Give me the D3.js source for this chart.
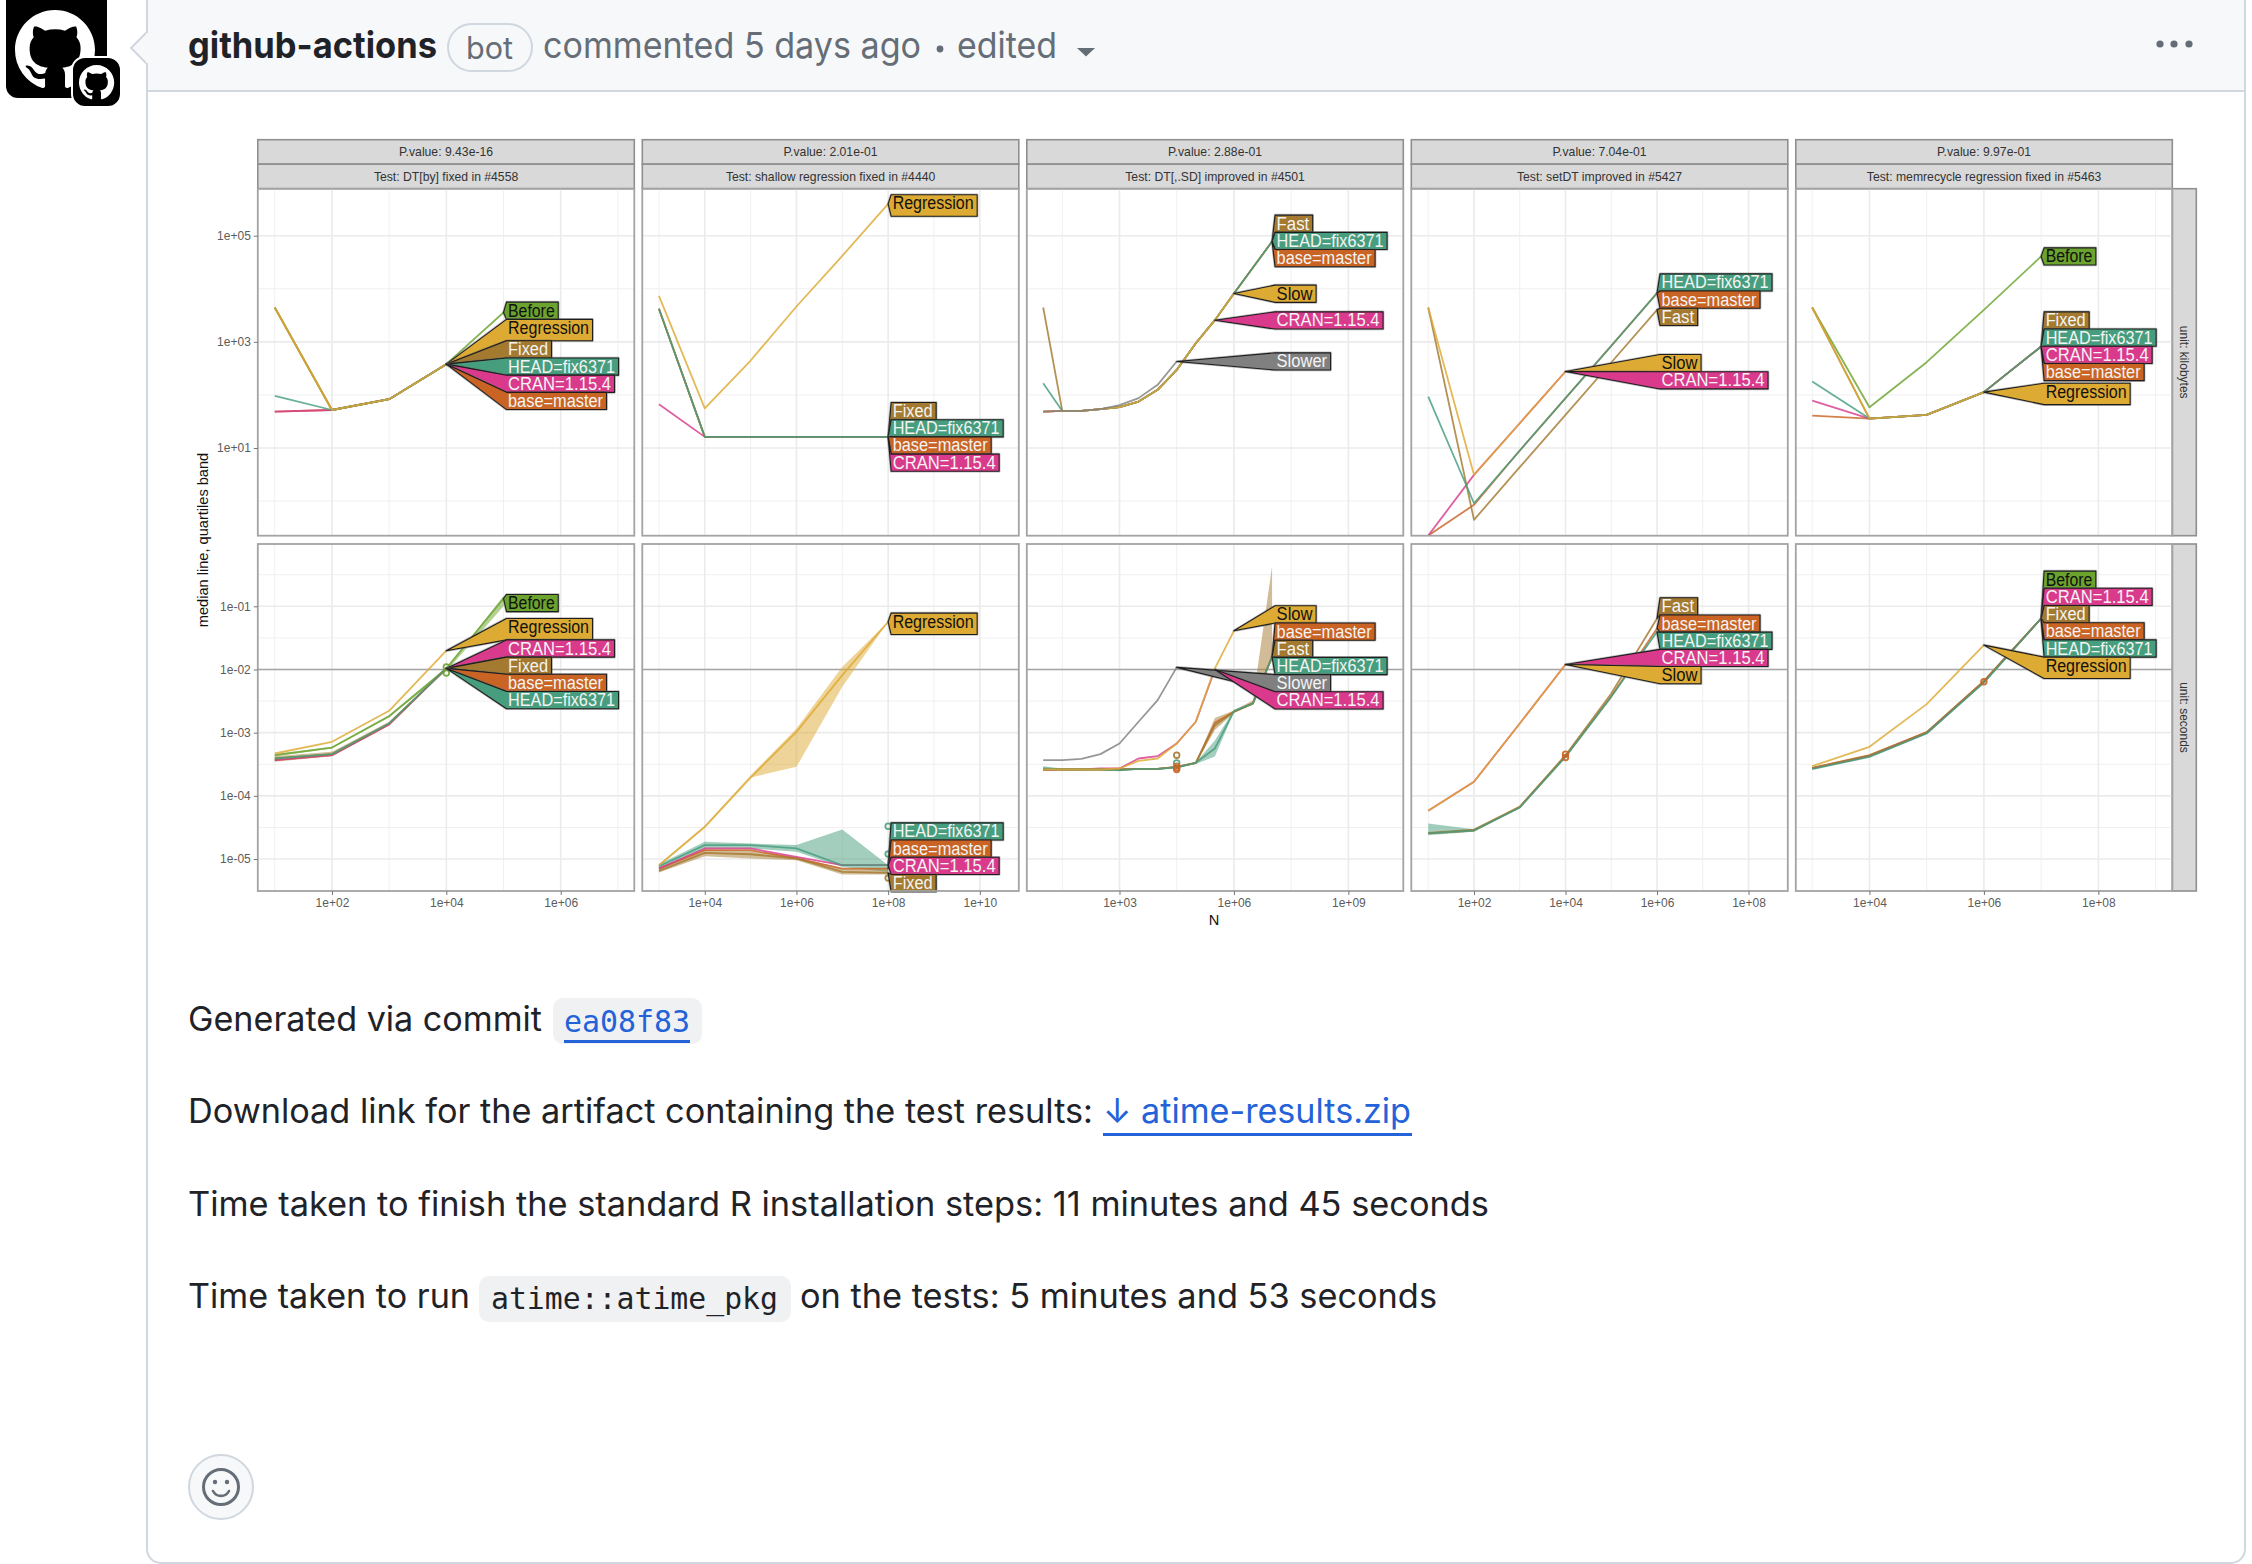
<!DOCTYPE html>
<html>
<head>
<meta charset="utf-8">
<script src="https://cdn.jsdelivr.net/npm/d3@7"></script>
<style>
body { margin: 0; background: #fff; }
svg { display: block; }
</style>
</head>
<body>
<script>
// ---- data ----
const BASE = "base=master", HEAD = "HEAD=fix6371", CRAN = "CRAN=1.15.4";
const seriesOrder = [BASE, "Before", CRAN, "Fast", "Fixed", HEAD, "Regression", "Slow", "Slower"];
const pValues = ["P.value: 9.43e-16", "P.value: 2.01e-01", "P.value: 2.88e-01", "P.value: 7.04e-01", "P.value: 9.97e-01"];
const testNames = ["Test: DT[by] fixed in #4558", "Test: shallow regression fixed in #4440", "Test: DT[,.SD] improved in #4501", "Test: setDT improved in #5427", "Test: memrecycle regression fixed in #5463"];
const unitNames = ["unit: kilobytes", "unit: seconds"];

const nP1 = [1e1, 1e2, 1e3, 1e4, 1e5];
const nP2 = [1e3, 1e4, 1e5, 1e6, 1e7, 1e8];
const nP3 = [1e1, 3.16e1, 1e2, 3.16e2, 1e3, 3.16e3, 1e4, 3.16e4, 1e5, 3.16e5, 1e6, 3.16e6, 1e7];
const nP4 = [1e1, 1e2, 1e3, 1e4, 1e5, 1e6];
const nP5 = [1e3, 1e4, 1e5, 1e6, 1e7];

const xMajorP1 = [1e2, 1e4, 1e6], xMinorP1 = [1e1, 1e3, 1e5, 1e7];
const xMajorP2 = [1e4, 1e6, 1e8, 1e10], xMinorP2 = [1e3, 1e5, 1e7, 1e9];
const xMajorP3 = [1e3, 1e6, 1e9], xMinorP3 = [3.16e1, 3.16e4, 3.16e7, 3.16e10];
const xMajorP4 = [1e2, 1e4, 1e6, 1e8], xMinorP4 = [1e1, 1e3, 1e5, 1e7];
const xMajorP5 = [1e4, 1e6, 1e8], xMinorP5 = [1e3, 1e5, 1e7, 1e9];

const yMajorKb = [1e1, 1e3, 1e5], yMinorKb = [1, 1e2, 1e4];
const yMajorSec = [1e-5, 1e-4, 1e-3, 1e-2, 1e-1], yMinorSec = [3.16e-6, 3.16e-5, 3.16e-4, 3.16e-3, 3.16e-2, 3.16e-1];
const secondsLimit = 0.01;

// kilobytes
const p1Kb = {
  "Before": [4430, 52, 83, 380, 3570],
  "Fixed": [4430, 52, 83, 380, null],
  [CRAN]: [48.6, 52, 83, 380, null],
  [BASE]: [48.6, 52, 83, 380, null],
  [HEAD]: [96, 52, 83, 380, null],
  "Regression": [4430, 52, 83, 380, null]
};
const p2Kb = {
  "Regression": [7360, 56, 445, 4630, 41700, 398000],
  "Fixed": [4190, 16.2, 16.2, 16.2, 16.2, 16.2],
  [BASE]: [4190, 16.2, 16.2, 16.2, 16.2, 16.2],
  [CRAN]: [67, 16.2, 16.2, 16.2, 16.2, 16.2],
  [HEAD]: [4190, 16.2, 16.2, 16.2, 16.2, 16.2]
};
const p3Kb = {
  "Slower": [48.6, 50, 50, 54, 64, 87, 155, 426],
  "Slow": [48.6, 50, 50, 54, 59, 75, 125, 295, 940, 2560, 8130],
  [CRAN]: [48.6, 50, 50, 54, 59, 75, 125, 295, 940, 2560],
  "Fast": [4430, 50, 50, 54, 59, 75, 125, 295, 940, 2560, 8130, 25100, 77700],
  [HEAD]: [166, 50, 50, 54, 59, 75, 125, 295, 940, 2560, 8130, 25100, 77700],
  [BASE]: [48.6, 50, 50, 54, 59, 75, 125, 295, 940, 2560, 8130, 25100, 77700]
};
const p4Kb = {
  "Slow": [4430, 3.12, 29.3, 276],
  [CRAN]: [0.224, 3.12, 29.3, 276],
  "Fast": [4430, 0.443, 4.35, 42, 408, 4010],
  [BASE]: [0.224, 0.85, 8.96, 86.8, 841, 8260],
  [HEAD]: [93, 0.91, 8.96, 86.8, 841, 8260]
};
const p5Kb = {
  "Before": [4430, 58.7, 414, 4010, 40600],
  "Regression": [4430, 35.9, 42, 113],
  "Fixed": [4430, 35.9, 42, 113, 817],
  [HEAD]: [179, 35.9, 42, 113, 817],
  [CRAN]: [78, 35.9, 42, 113, 817],
  [BASE]: [40.9, 35.9, 42, 113, 817]
};

// seconds
const p1Sec = {
  "Before": [4.4e-4, 5.82e-4, 1.82e-3, 0.0104, 0.133],
  "Regression": [4.68e-4, 7.16e-4, 2.22e-3, 0.0198],
  "Fixed": [3.9e-4, 4.57e-4, 1.4e-3, 0.0104],
  [HEAD]: [3.9e-4, 4.57e-4, 1.4e-3, 0.0104],
  [CRAN]: [3.67e-4, 4.4e-4, 1.35e-3, 0.0104],
  [BASE]: [3.67e-4, 4.4e-4, 1.35e-3, 0.0104]
};
const p2Sec = {
  "Regression": [7.98e-6, 3.23e-5, 1.95e-4, 1.03e-3, 8.13e-3, 0.0569],
  [HEAD]: [7.7e-6, 1.66e-5, 1.66e-5, 1.47e-5, 7.98e-6, 7.98e-6],
  [CRAN]: [7.07e-6, 1.47e-5, 1.47e-5, 1.08e-5, 7.98e-6, 7.98e-6],
  [BASE]: [7.07e-6, 1.38e-5, 1.38e-5, 1.02e-5, 7.07e-6, 7.07e-6],
  "Fixed": [6.5e-6, 1.25e-5, 1.19e-5, 1.02e-5, 6.26e-6, 6.04e-6]
};
const p3Sec = {
  "Slower": [3.67e-4, 3.67e-4, 3.85e-4, 4.57e-4, 6.73e-4, 1.49e-3, 3.27e-3, 0.0108],
  "Slow": [2.61e-4, 2.61e-4, 2.61e-4, 2.61e-4, 2.71e-4, 3.58e-4, 3.9e-4, 6.73e-4, 1.49e-3, 0.0104, 0.0409],
  [CRAN]: [2.55e-4, 2.61e-4, 2.61e-4, 2.71e-4, 2.71e-4, 3.9e-4, 4.25e-4, 6.73e-4, 1.49e-3, 0.01],
  [BASE]: [2.61e-4, 2.61e-4, 2.61e-4, 2.61e-4, 2.61e-4, 2.67e-4, 2.67e-4, 2.88e-4, 3.33e-4, 1.43e-3, 2.14e-3, 2.9e-3, 0.0158],
  "Fast": [2.61e-4, 2.61e-4, 2.61e-4, 2.61e-4, 2.61e-4, 2.67e-4, 2.67e-4, 2.88e-4, 3.33e-4, 1.3e-3, 2.14e-3, 2.9e-3, 0.0158],
  [HEAD]: [2.71e-4, 2.61e-4, 2.61e-4, 2.61e-4, 2.55e-4, 2.67e-4, 2.67e-4, 2.82e-4, 3.33e-4, 5.61e-4, 2.19e-3, 2.9e-3, 0.0158]
};
const p4Sec = {
  "Slow": [5.79e-5, 1.67e-4, 1.4e-3, 0.012],
  [CRAN]: [5.79e-5, 1.67e-4, 1.4e-3, 0.012],
  "Fast": [2.59e-5, 2.93e-5, 6.7e-5, 4.4e-4, 4.17e-3, 0.0641],
  [BASE]: [2.54e-5, 2.83e-5, 6.7e-5, 4.25e-4, 3.78e-3, 0.0446],
  [HEAD]: [2.54e-5, 2.83e-5, 6.53e-5, 4.14e-4, 3.69e-3, 0.0394]
};
const p5Sec = {
  "Before": [2.71e-4, 4.25e-4, 9.93e-4, 6.38e-3, 0.0641],
  "Regression": [2.95e-4, 5.97e-4, 2.83e-3, 0.0243],
  "Fixed": [2.75e-4, 4.35e-4, 1.01e-3, 6.5e-3, 0.0641],
  [CRAN]: [2.71e-4, 4.25e-4, 9.93e-4, 6.38e-3, 0.0641],
  [BASE]: [2.78e-4, 4.4e-4, 1.02e-3, 6.6e-3, 0.0641],
  [HEAD]: [2.65e-4, 4.15e-4, 9.7e-4, 6.2e-3, 0.0641]
};

// quartile bands: panel, row, series, q25, q75
const bands = [
  [0, 1, "Before", [4.2e-4, 5.6e-4, 1.75e-3, 9.4e-3, 0.1], [4.6e-4, 6e-4, 1.9e-3, 0.0105, 0.145]],
  [0, 1, "Fixed", [3.45e-4, 4.25e-4, 1.35e-3, 0.0104], [4.25e-4, 4.97e-4, 1.49e-3, 0.0104]],
  [1, 1, "Regression", [7.6e-6, 3.1e-5, 1.95e-4, 2.88e-4, 5.32e-3, 0.0569], [8.3e-6, 3.4e-5, 2.12e-4, 1.16e-3, 0.011, 0.0569]],
  [1, 1, HEAD, [6.9e-6, 1.47e-5, 1.47e-5, 1.3e-5, 7.5e-6, 6.26e-6], [8.3e-6, 1.87e-5, 1.76e-5, 1.66e-5, 2.93e-5, 7.98e-6]],
  [1, 1, "Fixed", [6.1e-6, 1.11e-5, 1.02e-5, 9.6e-6, 5.69e-6, 5.69e-6], [7e-6, 1.41e-5, 1.35e-5, 1.08e-5, 7.07e-6, 7.07e-6]],
  [2, 1, "Fast", [2.55e-4, 2.55e-4, 2.55e-4, 2.55e-4, 2.55e-4, 2.6e-4, 2.6e-4, 2.8e-4, 3.2e-4, 1.1e-3, 2.05e-3, 2.8e-3, 0.015], [2.7e-4, 2.7e-4, 2.7e-4, 2.7e-4, 2.7e-4, 2.75e-4, 2.75e-4, 2.95e-4, 3.4e-4, 1.7e-3, 2.25e-3, 3.27e-3, 0.433]],
  [2, 1, HEAD, [2.5e-4, 2.55e-4, 2.55e-4, 2.55e-4, 2.45e-4, 2.6e-4, 2.6e-4, 2.7e-4, 3.2e-4, 4.2e-4, 2.1e-3, 2.8e-3, 0.015], [2.95e-4, 2.7e-4, 2.7e-4, 2.7e-4, 2.65e-4, 2.75e-4, 2.75e-4, 2.95e-4, 3.4e-4, 7.5e-4, 2.3e-3, 3e-3, 0.0165]],
  [3, 1, HEAD, [2.38e-5, 2.7e-5, 6.3e-5, 4e-4, 3.6e-3, 0.0385], [3.65e-5, 2.95e-5, 6.7e-5, 4.3e-4, 3.8e-3, 0.04]]
];

// repeated runs drawn as open points: panel, row, series, N, value
const extraPoints = [
  [0, 1, "Before", 1e4, 0.011], [0, 1, "Before", 1e4, 0.0088],
  [1, 1, HEAD, 1e8, 3.3e-5], [1, 1, HEAD, 1e8, 1.2e-5], [1, 1, "Fixed", 1e8, 5e-6],
  [2, 1, "Fast", 3.16e4, 4.4e-4], [2, 1, HEAD, 3.16e4, 3.33e-4], [2, 1, BASE, 3.16e4, 2.95e-4], [2, 1, BASE, 3.16e4, 2.75e-4], [2, 1, BASE, 3.16e4, 2.61e-4],
  [3, 1, BASE, 1e4, 4.57e-4], [3, 1, BASE, 1e4, 4.05e-4],
  [4, 1, BASE, 1e6, 6.38e-3]
];

// label stacks: value at the top of the stack, labels from top to bottom
const p1KbLabels = [[5590, ["Before", "Regression", "Fixed", HEAD, CRAN, BASE]]];
const p2KbLabels = [[589000, ["Regression"]], [72, ["Fixed", HEAD, BASE, CRAN]]];
const p3KbLabels = [[243800, ["Fast", HEAD, BASE]], [11700, ["Slow"]], [3675, [CRAN]], [621, ["Slower"]]];
const p4KbLabels = [[19100, [HEAD, BASE, "Fast"]], [577, ["Slow", CRAN]]];
const p5KbLabels = [[59000, ["Before"]], [3675, ["Fixed", HEAD, CRAN, BASE]], [166, ["Regression"]]];
const p1SecLabels = [[0.154, ["Before"]], [0.0641, ["Regression", CRAN, "Fixed", BASE, HEAD]]];
const p2SecLabels = [[0.078, ["Regression"]], [3.74e-5, [HEAD, BASE, CRAN, "Fixed"]]];
const p3SecLabels = [[0.1019, ["Slow", BASE, "Fast", HEAD, "Slower", CRAN]]];
const p4SecLabels = [[0.1365, ["Fast", BASE, HEAD, CRAN, "Slow"]]];
const p5SecLabels = [[0.3606, ["Before", CRAN, "Fixed", BASE, HEAD, "Regression"]]];

const bodyLines = ["Generated via commit", "Download link for the artifact containing the test results:", "Time taken to finish the standard R installation steps: 11 minutes and 45 seconds", "Time taken to run", "on the tests: 5 minutes and 53 seconds"];

// ---- style and layout ----
const labelColors = {
  [BASE]: "#c96425", "Before": "#6ba32e", [CRAN]: "#d93a8c", "Fast": "#a37a30", "Fixed": "#a37a30",
  [HEAD]: "#479e7e", "Regression": "#ddaa33", "Slow": "#ddaa33", "Slower": "#808080"
};
const lineColors = labelColors;
const labelWidths = {
  [BASE]: 95, "Before": 46.7, [CRAN]: 103, "Fast": 32.6, "Fixed": 40,
  [HEAD]: 107, "Regression": 81, "Slow": 36, "Slower": 50.5
};
const darkText = ["Before", "Regression", "Slow"];

const nByPanel = [nP1, nP2, nP3, nP4, nP5];
const xMajors = [xMajorP1, xMajorP2, xMajorP3, xMajorP4, xMajorP5];
const xMinors = [xMinorP1, xMinorP2, xMinorP3, xMinorP4, xMinorP5];
const seriesByRow = [[p1Kb, p2Kb, p3Kb, p4Kb, p5Kb], [p1Sec, p2Sec, p3Sec, p4Sec, p5Sec]];
const labelsByRow = [[p1KbLabels, p2KbLabels, p3KbLabels, p4KbLabels, p5KbLabels], [p1SecLabels, p2SecLabels, p3SecLabels, p4SecLabels, p5SecLabels]];

const panelLeft = 257.8, panelStep = 384.5, panelW = 376.5;
const rowTop = [188.7, 544], rowH = 347;
const stripTop = 139.7, stripH = 24.5;
const xLimits = [[0.703, 7.287], [2.637, 10.85], [0.57, 10.44], [0.63, 8.858], [2.713, 9.292]];
const yLimits = [[-0.652, 5.885], [-5.506, -0.014]];

const fmtPow = d => {
  const e = Math.round(Math.log10(d));
  return "1e" + (e < 0 ? "-" : "+") + String(Math.abs(e)).padStart(2, "0");
};

const svg = d3.select("body").append("svg").attr("width", 2252).attr("height", 1564);
const sansFont = "Inter, 'Noto Sans', sans-serif";
const monoFont = "'DejaVu Sans Mono', monospace";
const plotFont = "'Liberation Sans', Arial, sans-serif";

// ---- comment card ----
const mark = "M8 0c4.42 0 8 3.58 8 8a8.013 8.013 0 0 1-5.45 7.59c-.4.08-.55-.17-.55-.38 0-.27.01-1.13.01-2.2 0-.75-.25-1.23-.54-1.48 1.78-.2 3.65-.88 3.65-3.95 0-.88-.31-1.59-.82-2.15.08-.2.36-1.02-.08-2.12 0 0-.67-.22-2.2.82-.64-.18-1.32-.27-2-.27-.68 0-1.36.09-2 .27-1.53-1.03-2.2-.82-2.2-.82-.44 1.1-.16 1.92-.08 2.12-.51.56-.82 1.28-.82 2.15 0 3.06 1.86 3.75 3.64 3.95-.23.2-.44.55-.51 1.07-.46.21-1.61.55-2.33-.66-.15-.24-.6-.83-1.23-.82-.67.01-.27.38.01.53.34.19.73.9.82 1.13.16.45.68 1.31 2.69.94 0 .67.01 1.3.01 1.49 0 .21-.15.45-.55.38A7.995 7.995 0 0 1 0 8c0-4.42 3.58-8 8-8Z";

function drawCard() {
  svg.append("rect").attr("x", 6).attr("y", -14).attr("width", 101).attr("height", 112).attr("rx", 12).attr("fill", "#000");
  svg.append("path").attr("d", mark).attr("transform", "translate(15,10) scale(5)").attr("fill", "#fff");
  svg.append("rect").attr("x", 72).attr("y", 57).attr("width", 49).attr("height", 50).attr("rx", 13).attr("fill", "#000").attr("stroke", "#fff").attr("stroke-width", 2);
  svg.append("path").attr("d", mark).attr("transform", "translate(79,65) scale(2.2)").attr("fill", "#fff");

  svg.append("rect").attr("x", 147).attr("y", -14).attr("width", 2098).attr("height", 1577).attr("rx", 14).attr("fill", "#fff").attr("stroke", "#d0d7de").attr("stroke-width", 2);
  svg.append("path").attr("d", "M148,90V0H2244V90Z").attr("fill", "#f6f8fa");
  svg.append("line").attr("x1", 147).attr("x2", 2245).attr("y1", 91).attr("y2", 91).attr("stroke", "#d0d7de").attr("stroke-width", 2);
  svg.append("path").attr("d", "M147,32L131,48L147,64").attr("fill", "#f6f8fa").attr("stroke", "#d0d7de").attr("stroke-width", 2);
  svg.append("rect").attr("x", 146).attr("y", 33).attr("width", 3).attr("height", 30).attr("fill", "#f6f8fa");

  pageText("github-actions", 188, 58, 36, "#1f2328", 249).attr("font-weight", 700);
  svg.append("rect").attr("x", 448).attr("y", 24).attr("width", 84).attr("height", 47).attr("rx", 23.5).attr("fill", "none").attr("stroke", "#d0d7de").attr("stroke-width", 2);
  pageText("bot", 466, 59, 31, "#656d76", 47);
  pageText("commented 5 days ago", 543, 58, 36, "#656d76", 378);
  svg.append("circle").attr("cx", 940).attr("cy", 49).attr("r", 3.4).attr("fill", "#656d76");
  pageText("edited", 957, 58, 36, "#656d76", 100);
  svg.append("path").attr("d", "M1077,48h18l-9,8.5Z").attr("fill", "#656d76");
  [2160, 2174, 2189].forEach(cx => svg.append("circle").attr("cx", cx).attr("cy", 44).attr("r", 3.6).attr("fill", "#656d76"));

  pageText(bodyLines[0], 188, 1031, 33.6, "#1f2328", 354);
  svg.append("rect").attr("x", 553).attr("y", 998).attr("width", 149).attr("height", 46).attr("rx", 10).attr("fill", "#eff1f3");
  pageText("ea08f83", 564, 1032, 29.8, "#2362d8", 126).attr("font-family", monoFont);
  svg.append("rect").attr("x", 564).attr("y", 1040).attr("width", 126).attr("height", 3).attr("fill", "#2362d8");

  pageText(bodyLines[1], 188, 1123, 33.6, "#1f2328", 905);
  pageText("\u2193 atime-results.zip", 1103, 1123, 33.6, "#2362d8", 308);
  svg.append("rect").attr("x", 1103).attr("y", 1133).attr("width", 309).attr("height", 3).attr("fill", "#2362d8");

  pageText(bodyLines[2], 188, 1216, 33.6, "#1f2328", 1301);

  pageText(bodyLines[3], 188, 1308, 33.6, "#1f2328", 282);
  svg.append("rect").attr("x", 479).attr("y", 1276).attr("width", 312).attr("height", 46).attr("rx", 10).attr("fill", "#eff1f3");
  pageText("atime::atime_pkg", 491, 1309, 29.8, "#1f2328", 287).attr("font-family", monoFont);
  pageText(bodyLines[4], 800, 1308, 33.6, "#1f2328", 637);

  svg.append("circle").attr("cx", 221).attr("cy", 1487).attr("r", 32).attr("fill", "#f6f8fa").attr("stroke", "#d0d7de").attr("stroke-width", 2);
  svg.append("circle").attr("cx", 221).attr("cy", 1487).attr("r", 17.5).attr("fill", "none").attr("stroke", "#656d76").attr("stroke-width", 3);
  svg.append("circle").attr("cx", 215).attr("cy", 1482).attr("r", 2.2).attr("fill", "#656d76");
  svg.append("circle").attr("cx", 227).attr("cy", 1482).attr("r", 2.2).attr("fill", "#656d76");
  svg.append("path").attr("d", "M213,1491a9,9 0 0 0 16,0").attr("fill", "none").attr("stroke", "#656d76").attr("stroke-width", 2.6).attr("stroke-linecap", "round");
}

function pageText(str, x, y, size, color, width) {
  return svg.append("text").attr("x", x).attr("y", y)
    .attr("font-family", sansFont).attr("font-size", size).attr("fill", color)
    .attr("textLength", width).attr("lengthAdjust", "spacingAndGlyphs")
    .text(str);
}

// ---- facets ----
function drawPanel(col, row) {
  const left = panelLeft + col * panelStep, top = rowTop[row];
  const x = d3.scaleLog().domain(xLimits[col].map(v => Math.pow(10, v))).range([left, left + panelW]);
  const y = d3.scaleLog().domain(yLimits[row].map(v => Math.pow(10, v))).range([top + rowH, top]);
  const g = svg.append("g");
  const clipId = "clip-" + col + "-" + row;
  g.append("clipPath").attr("id", clipId).append("rect").attr("x", left).attr("y", top).attr("width", panelW).attr("height", rowH);

  const yMajor = row == 0 ? yMajorKb : yMajorSec, yMinor = row == 0 ? yMinorKb : yMinorSec;
  const grid = g.append("g").attr("clip-path", "url(#" + clipId + ")");
  xMinors[col].forEach(d => grid.append("line").attr("x1", x(d)).attr("x2", x(d)).attr("y1", top).attr("y2", top + rowH).attr("stroke", "#f0f0f0").attr("stroke-width", 1));
  yMinor.forEach(d => grid.append("line").attr("y1", y(d)).attr("y2", y(d)).attr("x1", left).attr("x2", left + panelW).attr("stroke", "#f0f0f0").attr("stroke-width", 1));
  xMajors[col].forEach(d => grid.append("line").attr("x1", x(d)).attr("x2", x(d)).attr("y1", top).attr("y2", top + rowH).attr("stroke", "#ebebeb").attr("stroke-width", 1.6));
  yMajor.forEach(d => grid.append("line").attr("y1", y(d)).attr("y2", y(d)).attr("x1", left).attr("x2", left + panelW).attr("stroke", "#ebebeb").attr("stroke-width", 1.6));
  if (row == 1) {
    grid.append("line").attr("y1", y(secondsLimit)).attr("y2", y(secondsLimit)).attr("x1", left).attr("x2", left + panelW).attr("stroke", "#a6a6a6").attr("stroke-width", 1.4);
  }

  const ns = nByPanel[col];
  const data = seriesByRow[row][col];
  const marks = g.append("g").attr("clip-path", "url(#" + clipId + ")");

  bands.filter(b => b[0] == col && b[1] == row).forEach(b => {
    const area = d3.area().x((d, i) => x(ns[i])).y0((d, i) => y(b[3][i])).y1((d, i) => y(b[4][i]));
    marks.append("path").attr("d", area(b[3])).attr("fill", lineColors[b[2]]).attr("opacity", 0.5);
  });

  const line = d3.line().defined(d => d != null).x((d, i) => x(ns[i])).y(d => y(d));
  seriesOrder.filter(name => data[name]).forEach(name => {
    marks.append("path").attr("d", line(data[name])).attr("fill", "none")
      .attr("stroke", lineColors[name]).attr("stroke-width", 1.8).attr("stroke-linejoin", "round").attr("opacity", 0.82);
  });

  extraPoints.filter(p => p[0] == col && p[1] == row).forEach(p => {
    marks.append("circle").attr("cx", x(p[3])).attr("cy", y(p[4])).attr("r", 2.8)
      .attr("fill", "none").attr("stroke", lineColors[p[2]]).attr("stroke-width", 1.8).attr("opacity", 0.9);
  });

  // direct labels start just right of the largest N in the facet
  const maxN = d3.max(ns);
  const boxX = x(maxN) + 3;
  labelsByRow[row][col].forEach(stack => {
    let boxTop = y(stack[0]);
    stack[1].forEach(name => {
      const vals = data[name];
      let last = vals.length - 1;
      while (vals[last] == null) last--;
      const tipX = x(ns[last]), tipY = y(vals[last]);
      const h = /[gpqy]/.test(name) ? 21.4 : 17.2;
      const w = labelWidths[name] + 5;
      const outline = d3.line()([[tipX, tipY], [boxX, boxTop], [boxX + w, boxTop], [boxX + w, boxTop + h], [boxX, boxTop + h]]) + "Z";
      const label = g.append("g");
      label.append("path").attr("d", outline).attr("fill", "none").attr("stroke", "#666").attr("stroke-width", 2.6).attr("stroke-linejoin", "round").attr("opacity", 0.45);
      label.append("path").attr("d", outline).attr("fill", labelColors[name]).attr("stroke", "#1e1e1e").attr("stroke-width", 1.1).attr("stroke-linejoin", "round");
      label.append("text").attr("x", boxX + 1.5).attr("y", boxTop + 14.6)
        .attr("font-family", plotFont).attr("font-size", 18)
        .attr("textLength", labelWidths[name]).attr("lengthAdjust", "spacingAndGlyphs")
        .attr("fill", darkText.includes(name) ? "#111" : "#f4f4f4").text(name);
      boxTop += h;
    });
  });

  g.append("rect").attr("x", left).attr("y", top).attr("width", panelW).attr("height", rowH)
    .attr("fill", "none").attr("stroke", "#a3a3a3").attr("stroke-width", 1.8);

  if (row == 1) {
    const axis = g.append("g").attr("transform", "translate(0," + (top + rowH) + ")")
      .call(d3.axisBottom(x).tickValues(xMajors[col]).tickFormat(fmtPow).tickSize(4));
    styleAxis(axis);
  }
  if (col == 0) {
    const axis = g.append("g").attr("transform", "translate(" + left + ",0)")
      .call(d3.axisLeft(y).tickValues(yMajor).tickFormat(fmtPow).tickSize(4));
    styleAxis(axis);
  }
}

function styleAxis(axis) {
  axis.select(".domain").remove();
  axis.selectAll(".tick line").attr("stroke", "#777").attr("stroke-width", 1);
  axis.selectAll(".tick text").attr("font-family", plotFont).attr("font-size", 12).attr("fill", "#5c5c5c");
}

function drawStrips() {
  d3.range(5).forEach(col => {
    const left = panelLeft + col * panelStep;
    [pValues, testNames].forEach((names, k) => {
      svg.append("rect").attr("x", left).attr("y", stripTop + k * stripH).attr("width", panelW).attr("height", stripH)
        .attr("fill", "#d9d9d9").attr("stroke", "#8f8f8f").attr("stroke-width", 1.6);
      svg.append("text").attr("x", left + panelW / 2).attr("y", stripTop + k * stripH + 16.5).attr("text-anchor", "middle")
        .attr("font-family", plotFont).attr("font-size", 12.2).attr("fill", "#333").text(names[col]);
    });
  });
  const stripX = panelLeft + 4 * panelStep + panelW;
  unitNames.forEach((name, row) => {
    svg.append("rect").attr("x", stripX).attr("y", rowTop[row]).attr("width", 24).attr("height", rowH)
      .attr("fill", "#d9d9d9").attr("stroke", "#8f8f8f").attr("stroke-width", 1.6);
    svg.append("text").attr("transform", "translate(" + (stripX + 8) + "," + (rowTop[row] + rowH / 2) + ") rotate(90)")
      .attr("text-anchor", "middle").attr("font-family", plotFont).attr("font-size", 12).attr("fill", "#333").text(name);
  });
}

drawCard();
drawStrips();
[0, 1].forEach(row => d3.range(5).forEach(col => drawPanel(col, row)));

svg.append("text").attr("transform", "translate(208,540) rotate(-90)").attr("text-anchor", "middle")
  .attr("font-family", plotFont).attr("font-size", 14.6).attr("fill", "#111").text("median line, quartiles band");
svg.append("text").attr("x", 1214).attr("y", 925).attr("text-anchor", "middle")
  .attr("font-family", plotFont).attr("font-size", 14.6).attr("fill", "#111").text("N");
</script>
</body>
</html>
